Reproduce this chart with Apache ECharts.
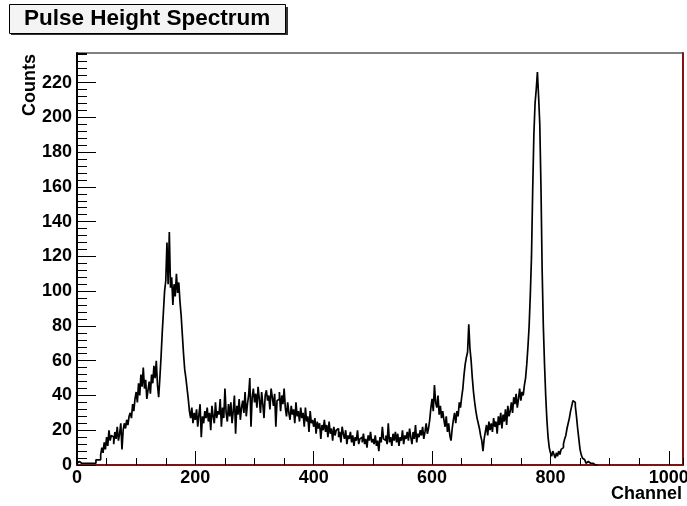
<!DOCTYPE html>
<html><head><meta charset="utf-8">
<script src="https://cdn.jsdelivr.net/npm/echarts@6/dist/echarts.min.js"></script>
<style>html,body{margin:0;padding:0;background:#fff}#c{width:687px;height:506px}</style>
</head><body><div id="c"></div>
<script>
// Histogram: 2-channel bins starting at channel 0
const binWidth = 2;
const counts = [
  1,2,1,1,2,1,2,1,2,1,
  1,1,2,1,2,1,3,3,4,3,
  6,10,7,13,9,16,11,20,14,17,
  16,12,19,15,22,14,18,24,9,20,
  24,21,26,23,28,30,27,35,31,38,
  42,36,47,40,52,45,56,44,49,38,
  43,48,41,52,47,57,50,60,46,39,
  50,62,76,88,100,106,128,104,134,102,
  108,92,104,97,110,99,105,94,86,75,
  64,55,50,44,38,31,27,33,24,30,
  26,32,22,29,35,16,28,24,31,27,
  33,25,30,20,34,28,24,36,27,31,
  29,38,22,33,27,44,30,25,35,28,
  36,24,31,40,18,34,29,38,26,33,
  37,30,42,28,35,40,50,22,39,44,
  36,41,33,45,38,30,42,35,27,40,
  43,37,40,32,44,39,34,41,22,37,
  38,42,31,40,35,44,33,28,36,30,
  26,34,29,32,24,36,28,31,25,33,
  27,30,22,33,25,28,19,31,24,26,
  22,27,18,25,21,24,15,23,20,26,
  19,23,16,25,18,21,14,22,17,20,
  21,16,19,13,22,18,15,20,12,17,
  15,19,13,17,11,16,14,20,12,15,
  16,13,18,12,15,10,17,14,19,13,
  15,12,17,11,14,8,16,13,22,15,
  14,17,12,24,13,16,11,18,14,19,
  13,18,11,16,14,20,12,17,15,19,
  14,21,16,12,19,15,23,13,18,16,
  20,17,22,15,19,24,18,21,26,33,
  38,31,46,36,33,40,29,34,27,31,
  26,22,28,19,24,17,14,21,26,30,
  24,31,28,36,33,39,44,52,58,62,
  65,81,67,60,50,42,36,31,27,24,
  21,17,14,8,15,19,23,17,25,20,
  24,19,27,22,25,18,28,23,30,21,
  29,25,32,23,34,28,31,36,30,39,
  35,41,33,38,44,37,42,40,46,50,
  58,68,80,98,120,158,190,208,216,226,
  212,196,160,112,80,58,40,26,16,10,
  7,5,8,6,4,7,5,8,6,9,
  10,12,15,17,21,24,27,31,34,37,
  36,34,28,21,15,9,6,4,3,2,
  1,2,1,1,0,1,0,0,0,0
];
const xMax = 1024, xMajor = 200, xMinor = 50;
const yMax = 237, yMajor = 20, yMinor = 4;
const titleText = 'Pulse Height Spectrum';
const xName = 'Channel', yName = 'Counts';

const seriesData = counts.map((c, i) => [i * binWidth, c]);
seriesData.push([counts.length * binWidth, counts[counts.length - 1]]);

const FONT = "'Liberation Sans', Arial, sans-serif";
const RED = '#7f1212';
const chart = echarts.init(document.getElementById('c'), null, {renderer: 'canvas'});
const lbl = {fontFamily: FONT, fontWeight: 'bold', fontSize: 18, color: '#000', formatter: v => String(v)};
chart.setOption({
  animation: false,
  backgroundColor: '#fff',
  title: {
    text: titleText, left: 9, top: 5, padding: [3, 15, 3, 15],
    backgroundColor: '#f4f4f4', borderColor: '#000', borderWidth: 1,
    textStyle: {fontFamily: FONT, fontWeight: 'bold', fontSize: 22.5, lineHeight: 22, color: '#000'}
  },
  graphic: [
    {type: 'rect', z: 1, shape: {x: 11, y: 7, width: 277, height: 28}, style: {fill: '#333'}},
    {type: 'text', x: 30, y: 54, rotation: Math.PI / 2,
     style: {text: yName, fontFamily: FONT, fontWeight: 'bold', fontSize: 18, fill: '#000', align: 'right', verticalAlign: 'middle'}},
    {type: 'text', x: 682, y: 494,
     style: {text: xName, fontFamily: FONT, fontWeight: 'bold', fontSize: 18, fill: '#000', align: 'right', verticalAlign: 'middle'}}
  ],
  grid: {left: 77, top: 53, right: 4, bottom: 41, show: true, borderColor: '#000', borderWidth: 1,
         backgroundColor: 'transparent', containLabel: false, outerBoundsMode: 'none'},
  xAxis: [
    {type: 'value', min: 0, max: xMax, interval: xMajor, position: 'bottom',
     axisLine: {show: true, onZero: false, lineStyle: {color: RED, width: 2}},
     axisTick: {show: true, inside: true, length: 14, lineStyle: {color: '#000', width: 1}},
     axisLabel: Object.assign({margin: 4, showMaxLabel: false}, lbl),
     splitLine: {show: false}},
    {type: 'value', min: 0, max: xMax, interval: xMinor, position: 'bottom',
     axisLine: {show: false, onZero: false},
     axisTick: {show: true, inside: true, length: 7, lineStyle: {color: '#000', width: 1}},
     axisLabel: {show: false}, splitLine: {show: false}}
  ],
  yAxis: [
    {type: 'value', min: 0, max: yMax, interval: yMajor, position: 'left',
     axisLine: {show: true, onZero: false, lineStyle: {color: '#000', width: 2}},
     axisTick: {show: true, inside: true, length: 19, lineStyle: {color: '#000', width: 1}},
     axisLabel: Object.assign({margin: 5, showMaxLabel: false}, lbl),
     splitLine: {show: false}},
    {type: 'value', min: 0, max: yMax, interval: yMinor, position: 'left',
     axisLine: {show: false, onZero: false},
     axisTick: {show: true, inside: true, length: 10, lineStyle: {color: '#000', width: 1}},
     axisLabel: {show: false}, splitLine: {show: false}},
    {type: 'value', min: 0, max: yMax, position: 'right',
     axisLine: {show: true, onZero: false, lineStyle: {color: RED, width: 2}},
     axisTick: {show: false}, axisLabel: {show: false}, splitLine: {show: false}}
  ],
  series: [{
    type: 'line', step: 'end', data: seriesData, xAxisIndex: 0, yAxisIndex: 0,
    symbol: 'none', lineStyle: {color: '#000', width: 1.7}, clip: true, z: 3
  }]
});
</script></body></html>
